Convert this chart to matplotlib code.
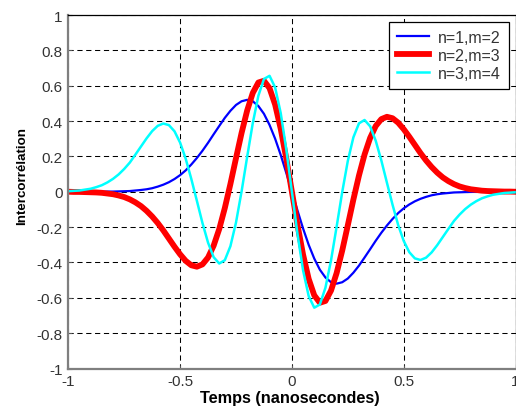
import numpy as np
import matplotlib
matplotlib.use('Agg')
import matplotlib.pyplot as plt

# sample times (ns), step 0.025
t = np.round(np.arange(-1, 1.0001, 0.025), 3)

# n=1,m=2
blue = [0, 0, 0, 0, 0, 0, 0, 0.001, 0.001, 0.002,
        0.003, 0.004, 0.007, 0.010, 0.014, 0.020, 0.029, 0.040, 0.054, 0.072,
        0.094, 0.121, 0.154, 0.191, 0.232, 0.277, 0.325, 0.372, 0.418, 0.458,
        0.491, 0.512, 0.520, 0.512, 0.485, 0.441, 0.378, 0.300, 0.208, 0.106,
        0,
        -0.106, -0.208, -0.300, -0.378, -0.441, -0.485, -0.512, -0.520, -0.512, -0.491,
        -0.458, -0.418, -0.372, -0.325, -0.277, -0.232, -0.191, -0.154, -0.121, -0.094,
        -0.072, -0.054, -0.040, -0.029, -0.020, -0.014, -0.010, -0.007, -0.004, -0.003,
        -0.002, -0.001, -0.001, 0, 0, 0, 0, 0, 0, 0]

# n=2,m=3
red = [0, -0.001, -0.001, -0.002, -0.003, -0.004, -0.006, -0.010, -0.014, -0.021,
       -0.030, -0.043, -0.060, -0.081, -0.108, -0.140, -0.177, -0.219, -0.265, -0.311,
       -0.354, -0.391, -0.416, -0.424, -0.411, -0.372, -0.305, -0.211, -0.092, 0.044,
       0.190, 0.333, 0.460, 0.559, 0.618, 0.628, 0.586, 0.493, 0.356, 0.187,
       0,
       -0.187, -0.356, -0.493, -0.586, -0.628, -0.618, -0.559, -0.460, -0.333, -0.190,
       -0.044, 0.092, 0.211, 0.305, 0.372, 0.411, 0.424, 0.416, 0.391, 0.354,
       0.311, 0.265, 0.219, 0.177, 0.140, 0.108, 0.081, 0.060, 0.043, 0.030,
       0.021, 0.014, 0.010, 0.006, 0.004, 0.003, 0.002, 0.001, 0.001, 0]

# n=3,m=4
cyan = [0.003, 0.005, 0.007, 0.012, 0.017, 0.026, 0.037, 0.053, 0.073, 0.098,
        0.129, 0.165, 0.210, 0.256, 0.302, 0.343, 0.373, 0.386, 0.377, 0.342,
        0.278, 0.187, 0.073, -0.051, -0.177, -0.288, -0.370, -0.406, -0.387, -0.308,
        -0.174, 0.002, 0.198, 0.388, 0.543, 0.638, 0.656, 0.590, 0.445, 0.239,
        0,
        -0.239, -0.445, -0.590, -0.656, -0.638, -0.543, -0.388, -0.198, -0.002, 0.174,
        0.308, 0.387, 0.406, 0.370, 0.288, 0.177, 0.051, -0.073, -0.187, -0.278,
        -0.342, -0.377, -0.386, -0.373, -0.343, -0.302, -0.256, -0.210, -0.165, -0.129,
        -0.098, -0.073, -0.053, -0.037, -0.026, -0.017, -0.012, -0.007, -0.005, -0.003]

labels = ['n=1,m=2', 'n=2,m=3', 'n=3,m=4']
xticks = [-1, -0.5, 0, 0.5, 1]
xticklabels = ['-1', '-0.5', '0', '0.5', '1']
yticks = [-1, -0.8, -0.6, -0.4, -0.2, 0, 0.2, 0.4, 0.6, 0.8, 1]
yticklabels = ['-1', '-0.8', '-0.6', '-0.4', '-0.2', '0', '0.2', '0.4', '0.6', '0.8', '1']

plt.rcParams['font.family'] = ['Liberation Sans', 'DejaVu Sans']

W, H = 516, 410
fig = plt.figure(figsize=(W / 100, H / 100), dpi=100)
ax = fig.add_axes([68.3 / W, 1 - 369.5 / H, 447.2 / W, 353.5 / H])

ax.plot(t, blue, color='#0000ff', lw=1.6, label=labels[0])
ax.plot(t, red, color='#ff0000', lw=4.2, label=labels[1])
ax.plot(t, cyan, color='#00ffff', lw=1.8, label=labels[2])

ax.set_xlim(-1, 1)
ax.set_ylim(-1, 1)
ax.set_xticks(xticks)
ax.set_xticklabels(xticklabels)
ax.set_yticks(yticks)
ax.set_yticklabels(yticklabels)
ax.tick_params(direction='in', length=3, width=0.8, color='#555555',
               labelsize=11, labelcolor='#333333', pad=4)
ax.grid(True, color='black', lw=0.75, linestyle=(0, (5, 3.5)))
ax.set_axisbelow(True)

for side in ['left', 'bottom']:
    ax.spines[side].set_color('#7f7f7f')
    ax.spines[side].set_linewidth(1.6)
for side in ['top', 'right']:
    ax.spines[side].set_color('black')
    ax.spines[side].set_linewidth(0.9)

leg = ax.legend(loc='upper right', bbox_to_anchor=(509 / W, 1 - 22.7 / H),
                bbox_transform=fig.transFigure, borderaxespad=0,
                fancybox=False, framealpha=1, edgecolor='black',
                fontsize=11.5, handlelength=2.0, labelspacing=0.2,
                borderpad=0.5, handletextpad=0.6)
leg.get_frame().set_linewidth(0.9)
for txt in leg.get_texts():
    txt.set_color('#333333')

fig.text(22.5 / W, 1 - 176 / H, 'Intercorrélation', rotation=90,
         ha='center', va='center', fontsize=9.6, fontweight='bold')
fig.text(290 / W, 1 - 399 / H, 'Temps (nanosecondes)', ha='center', va='center',
         fontsize=11.7, fontweight='bold')

fig.savefig('out.png', dpi=100)
